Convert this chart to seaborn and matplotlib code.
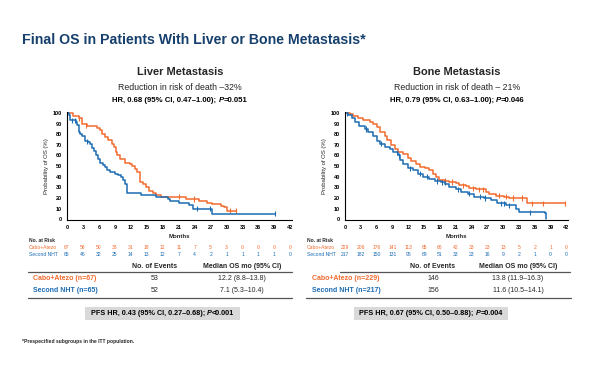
import matplotlib
matplotlib.use('Agg')
import matplotlib.pyplot as plt
import matplotlib.transforms as mtransforms
from matplotlib.patches import Rectangle
import seaborn as sns
import pandas as pd

sns.set_theme(style='white')
plt.rcParams['font.family'] = ['Liberation Sans Narrow', 'Liberation Sans', 'DejaVu Sans']

ORANGE = '#F26B2F'
BLUE = '#1C6CB3'
NAVY = '#17406D'

arms = ['Cabo+Atezo', 'Second NHT']
month_ticks = list(range(0, 43, 3))
pct_ticks = list(range(0, 101, 10))

# ---- Liver metastasis KM data ----
liver_cabo_t = [0, 1.2, 2.2, 2.8, 3.7, 5.6, 6.2, 6.5, 7.1, 7.8, 8.4, 8.8, 9.2, 9.4, 9.9, 10.9, 11.8, 12.3,
                12.7, 13.2, 13.7, 13.8, 14.3, 14.9, 15.5, 16.1, 16.8, 17.7, 22.4, 24.8, 26.4, 27.3, 28.9,
                29.5, 30.1, 31.8]
liver_cabo_s = [100, 97, 95, 90, 88, 86, 84, 80, 77, 75, 71, 68, 63, 60, 57, 53, 52, 50,
                47, 44, 40, 35, 33, 30, 27, 25, 23, 21, 19, 17, 15, 14, 12,
                11, 8, 8]
liver_nht_t = [0, 0.3, 0.6, 1.6, 1.9, 2.2, 2.5, 2.9, 3.3, 4.0, 4.3, 4.7, 5.1, 5.5, 5.9, 6.2, 6.7, 7.1,
               7.5, 8.0, 9.0, 9.6, 10.2, 10.6, 10.9, 11.2, 11.3, 14.0, 16.8, 18.9, 19.3, 21.1, 23.0,
               23.6, 27.3, 39.1]
liver_nht_s = [100, 98, 93, 92, 89, 82, 80, 78, 74, 73, 71, 67, 64, 60, 57, 53, 51, 49,
               46, 44, 43, 42, 40, 37, 33, 30, 25, 23, 21, 19, 17, 15, 13,
               10, 5, 5]
liver_cabo_cens_t = [2.3, 3.6, 21.0, 23.8, 30.6, 31.8]
liver_cabo_cens_s = [95, 88, 21, 19, 8, 8]
liver_nht_cens_t = [1.0, 1.5, 3.8, 24.5, 26.8, 39.1]
liver_nht_cens_s = [93, 93, 73, 10, 10, 5]
liver_risk_cabo = [67, 58, 50, 38, 31, 18, 12, 11, 7, 5, 3, 0, 0, 0, 0]
liver_risk_nht = [65, 46, 32, 25, 14, 13, 12, 7, 4, 2, 1, 1, 1, 1, 0]

# ---- Bone metastasis KM data ----
bone_cabo_t = [0, 1.0, 1.6, 2.5, 3.5, 4.7, 5.3, 6.0, 6.6, 7.5, 7.9, 8.7, 9.4, 10.1, 11.0, 12.0, 12.6,
               13.5, 14.2, 15.1, 16.0, 16.7, 17.3, 17.9, 18.9, 19.8, 21.1, 21.7, 23.0, 23.6, 24.8,
               26.7, 27.4, 28.6, 30.2, 31.1, 34.6, 41.7]
bone_cabo_s = [100, 99, 97, 95, 93, 92, 90, 87, 82, 78, 75, 70, 66, 63, 61, 58, 55,
               52, 49, 48, 46, 43, 40, 37, 36, 35, 34, 32, 31, 29, 28,
               26, 24, 22, 21, 20, 15, 15]
bone_nht_t = [0, 0.6, 1.3, 1.9, 2.7, 3.8, 4.4, 5.3, 6.0, 6.6, 7.5, 8.5, 9.1, 10.1, 10.4, 11.0, 12.0,
              12.9, 13.8, 14.8, 16.0, 17.0, 18.2, 18.9, 19.8, 21.1, 22.0, 23.3, 24.5, 26.4, 27.7,
              28.9, 30.5, 32.4, 33.0, 38.0, 38.05]
bone_nht_s = [100, 98, 95, 92, 88, 85, 82, 78, 74, 71, 68, 66, 63, 60, 56, 52, 48,
              46, 43, 40, 38, 36, 35, 33, 30, 28, 26, 24, 21, 20, 18,
              15, 13, 10, 7, 6, 0]
bone_cabo_cens_t = [19.0, 20.3, 22.3, 24.2, 25.5, 26.2, 29.2, 30.6, 31.8, 33.5, 35.5, 37.6, 41.7]
bone_cabo_cens_s = [36, 35, 32, 29, 28, 28, 22, 21, 20, 20, 15, 15, 15]
bone_nht_cens_t = [0.4, 3.9, 6.8, 9.8, 10.2, 12.4, 14.3, 15.6, 17.5, 18.4, 19.0, 21.4, 23.5, 25.6,
                   26.6, 29.6, 30.2, 31.1, 35.0]
bone_nht_cens_s = [100, 85, 71, 63, 60, 48, 43, 40, 36, 35, 35, 28, 24, 21, 20, 15, 15, 13, 6]
bone_risk_cabo = [229, 206, 176, 141, 113, 85, 66, 42, 33, 23, 13, 5, 2, 1, 0]
bone_risk_nht = [217, 182, 150, 131, 95, 69, 51, 33, 23, 16, 9, 2, 1, 0, 0]

panels = [
    dict(title='Liver Metastasis', sub='Reduction in risk of death \u201332%',
         hr='HR, 0.68 (95% CI, 0.47\u20131.00); ', hr_p='=0.051',
         curves=[(liver_cabo_t, liver_cabo_s), (liver_nht_t, liver_nht_s)],
         cens=[(liver_cabo_cens_t, liver_cabo_cens_s), (liver_nht_cens_t, liver_nht_cens_s)],
         risk=[liver_risk_cabo, liver_risk_nht],
         n_labels=['Cabo+Atezo (n=67)', 'Second NHT (n=65)'], events=['53', '52'],
         medians=['12.2 (8.8\u201313.8)', '7.1 (5.3\u201310.4)'],
         pfs='PFS HR, 0.43 (95% CI, 0.27\u20130.68); ', pfs_p='<0.001'),
    dict(title='Bone Metastasis', sub='Reduction in risk of death \u2013 21%',
         hr='HR, 0.79 (95% CI, 0.63\u20131.00); ', hr_p='=0.046',
         curves=[(bone_cabo_t, bone_cabo_s), (bone_nht_t, bone_nht_s)],
         cens=[(bone_cabo_cens_t, bone_cabo_cens_s), (bone_nht_cens_t, bone_nht_cens_s)],
         risk=[bone_risk_cabo, bone_risk_nht],
         n_labels=['Cabo+Atezo (n=229)', 'Second NHT (n=217)'], events=['146', '156'],
         medians=['13.8 (11.9\u201316.3)', '11.6 (10.5\u201314.1)'],
         pfs='PFS HR, 0.67 (95% CI, 0.50\u20130.88); ', pfs_p='=0.004'),
]

W, H = 600, 365
fig = plt.figure(figsize=(6, 3.65), dpi=100)
fig.patch.set_facecolor('white')


def fx(x):
    return x / W


def fy(y):
    return 1 - y / H


def T(x, y, s, **kw):
    kw.setdefault('va', 'center')
    return fig.text(fx(x), fy(y), s, **kw)


def TP(xc, y, pre, pval, size, weight='bold', color='black'):
    """Text with italic P, centered at xc."""
    t1 = fig.text(0, 0, pre, fontsize=size, fontweight=weight, color=color)
    t2 = fig.text(0, 0, 'P', fontsize=size, fontweight=weight, style='italic', color=color)
    t3 = fig.text(0, 0, pval, fontsize=size, fontweight=weight, color=color)
    r = fig.canvas.get_renderer()
    ws = [t.get_window_extent(r).width for t in (t1, t2, t3)]
    total = sum(ws)
    x0 = xc - total / 2
    for t, w in zip((t1, t2, t3), ws):
        t.set_position((fx(x0), fy(y)))
        t.set_va('center')
        x0 += w


T(22, 40, 'Final OS in Patients With Liver or Bone Metastasis*', fontsize=10.2,
  fontweight='bold', color=NAVY, ha='left')

ax_specs = [(67, 292, 28, 292), (345, 568, 306, 571)]
centers = [180, 457]
table_cols = [(155, 242), (433, 518)]
n_x = [33, 312]
topline_x = [(28, 292), (340, 570)]
pfs_box = [(85, 240), (354, 508)]
risk_label_x = [29, 307]
TS = 5.0

for i, p in enumerate(panels):
    xl, xr, tl, tr = ax_specs[i]
    ax = fig.add_axes([fx(xl), fy(220), (xr - xl) / W, (220 - 112) / H])
    df = pd.concat([pd.DataFrame({'time': t, 'surv': s, 'arm': a})
                    for (t, s), a in zip(p['curves'], arms)], ignore_index=True)
    sns.lineplot(data=df, x='time', y='surv', hue='arm', palette=[ORANGE, BLUE],
                 drawstyle='steps-post', estimator=None, sort=False, legend=False,
                 linewidth=1.1, ax=ax)
    dc = pd.concat([pd.DataFrame({'time': t, 'surv': s, 'arm': a})
                    for (t, s), a in zip(p['cens'], arms)], ignore_index=True)
    sns.scatterplot(data=dc, x='time', y='surv', hue='arm', palette=[ORANGE, BLUE],
                    marker='|', s=14, linewidth=0.8, legend=False, ax=ax)
    ax.set_xlim(0, 42.3)
    ax.set_ylim(-0.8, 101)
    ax.set_xticks(month_ticks)
    ax.set_yticks(pct_ticks)
    ax.set_xticklabels([str(m) for m in month_ticks])
    ax.tick_params(axis='both', labelsize=4, length=2, width=0.6, pad=1.5, colors='black')
    for lab in ax.get_xticklabels() + ax.get_yticklabels():
        lab.set_fontweight('bold')
    for side in ['top', 'right']:
        ax.spines[side].set_visible(False)
    for side in ['left', 'bottom']:
        ax.spines[side].set_color('black')
        ax.spines[side].set_linewidth(0.8)
    ax.set_xlabel('')
    ax.set_ylabel('Probability of OS (%)', fontsize=4.3, labelpad=3)
    ax.set_facecolor('white')

    # Titles
    T(centers[i], 72, p['title'], fontsize=7.9, fontweight='bold', ha='center')
    T(centers[i], 87, p['sub'], fontsize=6.3, ha='center')
    TP(centers[i], 101, p['hr'], p['hr_p'], 5.6)

    # Months label and risk table
    T((xl + xr) / 2, 236, 'Months', fontsize=4.3, fontweight='bold', ha='center')
    T(risk_label_x[i], 240.5, 'No. at Risk', fontsize=3.6, fontweight='bold', ha='left')
    blend = mtransforms.blended_transform_factory(ax.transData, fig.transFigure)
    for row, (arm, col, y) in enumerate(zip(arms, [ORANGE, BLUE], [247.5, 254.5])):
        T(risk_label_x[i], y, arm, fontsize=3.6, color=col, ha='left')
        for m, n in zip(month_ticks, p['risk'][row]):
            ax.text(m, fy(y), str(n), transform=blend, fontsize=3.6, color=col,
                    ha='center', va='center')

    # Summary table
    c1, c2 = table_cols[i]
    T(c1, 266, 'No. of Events', fontsize=TS, fontweight='bold', ha='center')
    T(c2, 266, 'Median OS mo (95% CI)', fontsize=TS, fontweight='bold', ha='center')
    fig.add_artist(plt.Line2D([fx(topline_x[i][0]), fx(topline_x[i][1])], [fy(271.5)] * 2,
                              color='#555555', linewidth=0.9))
    for row, (col, y) in enumerate(zip([ORANGE, BLUE], [279, 290])):
        T(n_x[i], y, p['n_labels'][row], fontsize=TS, fontweight='bold', color=col, ha='left')
        T(c1, y, p['events'][row], fontsize=TS, ha='center')
        T(c2, y, p['medians'][row], fontsize=TS, ha='center')
    fig.add_artist(plt.Line2D([fx(tl), fx(tr)], [fy(297.5)] * 2, color='#555555', linewidth=0.9))

    bx0, bx1 = pfs_box[i]
    fig.add_artist(Rectangle((fx(bx0), fy(320)), (bx1 - bx0) / W, 13 / H,
                             transform=fig.transFigure, facecolor='#D9D9D9', edgecolor='none',
                             zorder=0))
    TP((bx0 + bx1) / 2, 313.5, p['pfs'], p['pfs_p'], 5.2)

T(22, 342, '*Prespecified subgroups in the ITT population.', fontsize=3.6,
  fontweight='bold', ha='left')

fig.savefig('out.png', dpi=100, facecolor='white')
